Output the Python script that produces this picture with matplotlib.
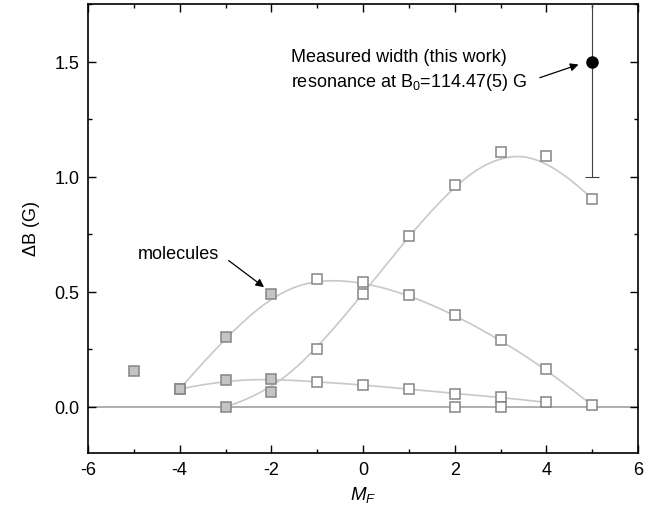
import numpy as np
import matplotlib
matplotlib.use("Agg")
import matplotlib.pyplot as plt
from matplotlib.ticker import MultipleLocator

plt.rcParams['font.family'] = ['Liberation Sans', 'DejaVu Sans']
plt.rcParams['mathtext.fontset'] = 'custom'
plt.rcParams['mathtext.rm'] = 'Liberation Sans'
plt.rcParams['mathtext.it'] = 'Liberation Sans:italic'
plt.rcParams['axes.unicode_minus'] = False

# Data
xA = [-3, -2, -1, 0, 1, 2, 3, 4, 5]
yA = [0.0, 0.065, 0.252, 0.491, 0.743, 0.965, 1.109, 1.091, 0.904]
xB = [-4, -3, -2, -1, 0, 1, 2, 3, 4, 5]
yB = [0.078, 0.304, 0.491, 0.557, 0.543, 0.487, 0.400, 0.291, 0.165, 0.007]
xC = [-4, -3, -2, -1, 0, 1, 2, 3, 4]
yC = [0.078, 0.117, 0.122, 0.109, 0.096, 0.077, 0.058, 0.042, 0.020]
xE = [-5, 2, 3]
yE = [0.157, 0.0, 0.0]
x_meas = [5]
y_meas = [1.5]
err_meas = [0.5]


def bspline_curve(x, y, deg=3, n=400):
    """Clamped cubic B-spline using the data points as control points."""
    P = np.column_stack([x, y]).astype(float)
    m = len(P)
    inner = np.arange(1, m - deg)
    knots = np.concatenate([np.zeros(deg + 1), inner,
                            np.full(deg + 1, m - deg)]).astype(float)
    t = np.linspace(0, m - deg, n)
    t[-1] -= 1e-9

    def basis(i, k, tt):
        if k == 0:
            return ((knots[i] <= tt) & (tt < knots[i + 1])).astype(float)
        out = np.zeros_like(tt)
        d1 = knots[i + k] - knots[i]
        d2 = knots[i + k + 1] - knots[i + 1]
        if d1 > 0:
            out += (tt - knots[i]) / d1 * basis(i, k - 1, tt)
        if d2 > 0:
            out += (knots[i + k + 1] - tt) / d2 * basis(i + 1, k - 1, tt)
        return out

    N = np.array([basis(i, deg, t) for i in range(m)])
    C = N.T @ P
    return C[:, 0], C[:, 1]


fig = plt.figure(figsize=(6.64, 5.10), dpi=100)
ax = fig.add_axes([88 / 664, 56 / 510, 550 / 664, 449 / 510])

ax.axhline(0, color='#999999', lw=1.1, zorder=1)

curve_color = '#c8c8c8'
for xs_, ys_ in [(xA, yA), (xB, yB), (xC, yC)]:
    sx, sy = bspline_curve(xs_, ys_)
    ax.plot(sx, sy, color=curve_color, lw=1.2, zorder=2)

edge = '#858585'
fill = '#c4c4c4'
allx = xA + xB + xC + xE
ally = yA + yB + yC + yE
for xv, yv in zip(allx, ally):
    fc = fill if xv <= -2 else 'white'
    ax.plot([xv], [yv], marker='s', ms=7.5, mfc=fc, mec=edge, mew=1.1,
            ls='none', zorder=3)

ax.errorbar(x_meas, y_meas, yerr=err_meas, fmt='o', color='black', ms=8,
            ecolor='#404040', elinewidth=0.8, capsize=5, capthick=0.8, zorder=4)

ax.set_xlim(-6, 6)
ax.set_ylim(-0.2, 1.75)
ax.xaxis.set_major_locator(MultipleLocator(2))
ax.xaxis.set_minor_locator(MultipleLocator(1))
ax.yaxis.set_major_locator(MultipleLocator(0.5))
ax.yaxis.set_minor_locator(MultipleLocator(0.25))
ax.yaxis.set_major_formatter(matplotlib.ticker.FormatStrFormatter('%.1f'))
ax.tick_params(which='both', direction='in', top=True, right=True,
               labelsize=13, width=1.0, pad=6)
ax.tick_params(which='major', length=6)
ax.tick_params(which='minor', length=3)
for s in ax.spines.values():
    s.set_linewidth(1.2)

ax.set_xlabel(r'$\mathit{M}_{\mathit{F}}$', fontsize=13.5, labelpad=4)
ax.set_ylabel(r'$\Delta$B (G)', fontsize=13, labelpad=9)

ax.text(-4.91, 0.665, 'molecules', fontsize=13, va='center', ha='left')
ax.annotate('', xy=(-2.11, 0.513), xytext=(-2.98, 0.643),
            arrowprops=dict(arrowstyle='-|>', color='black', lw=0.9,
                            mutation_scale=12))

ax.text(-1.565, 1.522, 'Measured width (this work)', fontsize=13,
        va='center', ha='left')
ax.text(-1.565, 1.413, r'resonance at B$_0$=114.47(5) G', fontsize=13,
        va='center', ha='left')
ax.annotate('', xy=(4.76, 1.491), xytext=(3.80, 1.426),
            arrowprops=dict(arrowstyle='-|>', color='black', lw=0.9,
                            mutation_scale=12))

fig.savefig('out.png', dpi=100)
